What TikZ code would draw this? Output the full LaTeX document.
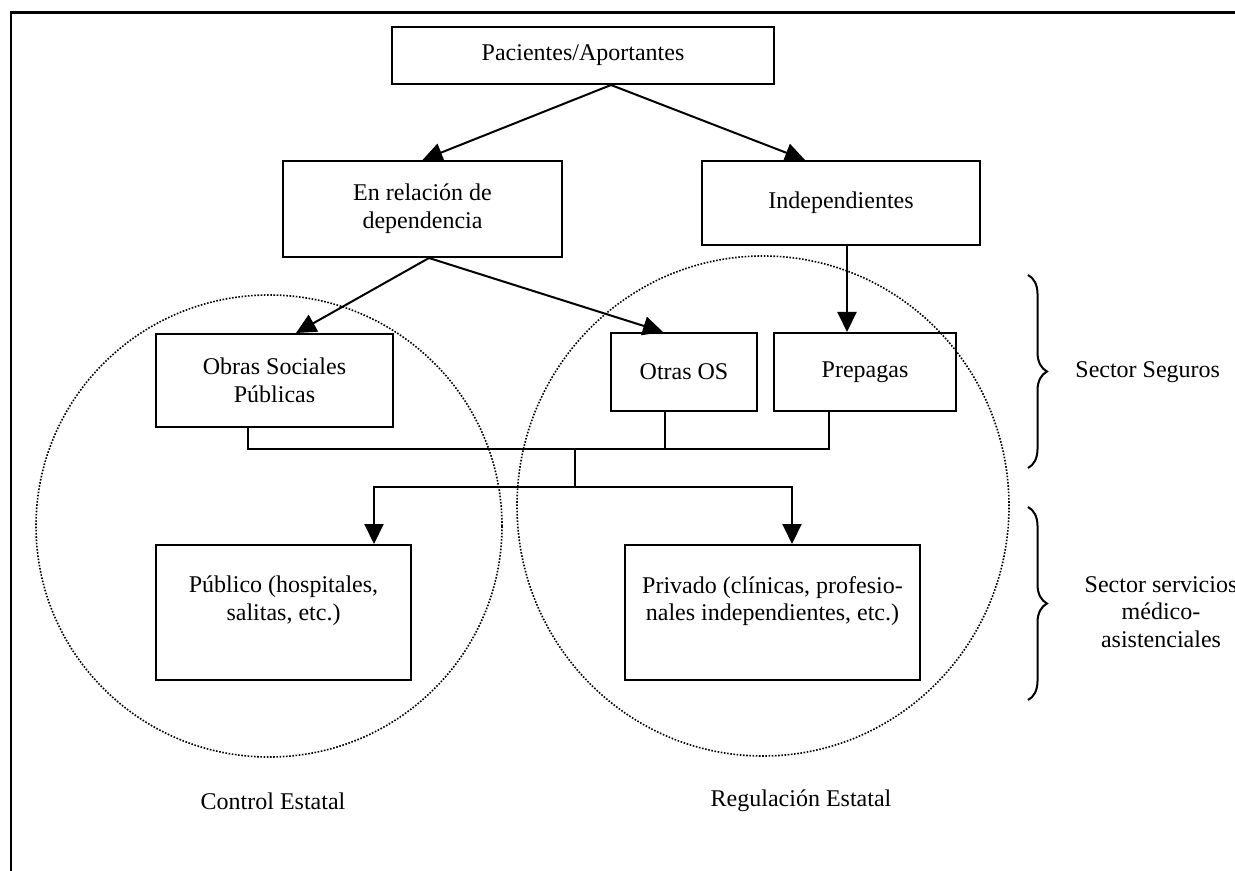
\documentclass[tikz,border=0pt]{standalone}
\usepackage{fontspec}
\setmainfont{Liberation Serif}
\usetikzlibrary{arrows.meta,calc,decorations.pathreplacing}
\begin{document}
\begin{tikzpicture}[x=0.5pt,y=-0.5pt,
  box/.style={draw,line width=1pt,rectangle,align=center,inner sep=0pt,font=\fontsize{12}{13.8}\selectfont},
  lbl/.style={align=center,inner sep=0pt,font=\fontsize{12}{13.8}\selectfont},
  conn/.style={line width=1pt},
  arr/.style={conn,-{Triangle[length=10pt,width=9.5pt]}},
  zone/.style={line width=0.8pt,dash pattern=on 0.8pt off 0.8pt},
  sbrace/.style={line width=1pt,decorate,decoration={brace,amplitude=9.5pt}}]
\useasboundingbox (0,0) rectangle (1235,871);
% outer frame (runs past the page on the right and bottom)
\draw[line width=1.25pt] (11,12.5) rectangle (1300,940);

% dotted zones
\draw[zone] (269,526) ellipse [x radius=116.5pt, y radius=115.5pt];
\draw[zone] (763,506) ellipse [x radius=123pt, y radius=125pt];

% boxes
\node[box,minimum width=191pt,minimum height=28.5pt] (pac) at (583,55.5) {Pacientes/Aportantes};
\node[box,minimum width=139.5pt,minimum height=48pt] (rel) at (422.5,209) {En relación de\\dependencia};
\node[box,minimum width=139pt,minimum height=42pt] (ind) at (841,203) {Independientes};
\node[box,minimum width=118.5pt,minimum height=46.5pt] (obras) at (274.5,380.5) {Obras Sociales\\Públicas};
\node[box,minimum width=73pt,minimum height=39pt] (otras) at (684,372) {Otras OS};
\node[box,minimum width=91pt,minimum height=39pt] (prep) at (865,372) {Prepagas};
\node[box,minimum width=127.5pt,minimum height=67.5pt] (pub) at (283.5,612.5) {};
\node[box,minimum width=147.5pt,minimum height=67.5pt] (priv) at (772.5,612.5) {};
\node[lbl] (pubtxt) at ($(pub.center)+(0,-11.5)$) {Público (hospitales,\\salitas, etc.)};
\node[lbl] (privtxt) at ($(priv.center)+(0,-11.5)$) {Privado (clínicas, profesio-\\nales independientes, etc.)};

% arrows between levels
\draw[arr] ($(pac.south)+(28,0)$) -- (rel.north);
\draw[arr] ($(pac.south)+(28,0)$) -- ($(ind.north)+(-36,0)$);
\draw[arr] ($(rel.south)+(6.5,0)$) -- ($(obras.north)+(21.5,0)$);
\draw[arr] ($(rel.south)+(6.5,0)$) -- ($(otras.north)+(-21,0)$);
\coordinate (drop) at (847,0);
\draw[arr] (ind.south -| drop) -- (prep.north -| drop);

% collecting bus and split to the service sectors
\coordinate (j1) at (575,449);
\coordinate (j2) at (575,487);
\coordinate (oL) at ($(obras.south)+(-26.5,0)$);
\coordinate (oM) at ($(otras.south)+(-19,0)$);
\coordinate (oR) at ($(prep.south)+(-36,0)$);
\draw[conn] (oL) |- (j1) -| (oR);
\draw[conn] (oM) -- (oM |- j1);
\draw[conn] (j1) -- (j2);
\draw[arr] (j2) -| ($(pub.north)+(90.5,0)$);
\draw[arr] (j2) -| ($(priv.north)+(19.5,0)$);

% sector braces
\coordinate (b1t) at (1028,275);
\coordinate (b1b) at (1028,468);
\coordinate (b2t) at (1028,507);
\coordinate (b2b) at (1028,700);
\draw[sbrace] (b1t) -- (b1b);
\draw[sbrace] (b2t) -- (b2b);
\node[lbl,anchor=west] (seg) at (1075,372) {Sector Seguros};
\node[lbl] (serv) at (1161,612) {Sector servicios\\médico-\\asistenciales};

% zone captions
\node[lbl] (ctrl) at (273,801) {Control Estatal};
\node[lbl] (regu) at (801,801) {Regulación Estatal};
\end{tikzpicture}
\end{document}
